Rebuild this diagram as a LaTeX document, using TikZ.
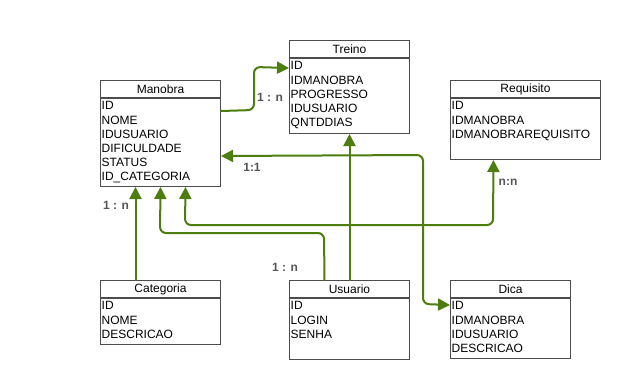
\documentclass[tikz,border=0pt]{standalone}
\usepackage{fontspec}
\setmainfont{Liberation Sans}
\usetikzlibrary{arrows.meta}

% One table of the schema: name, title, north west corner, width, body height, fields
\newcommand{\entity}[6]{%
  \node[entity head,minimum width=#4,anchor=north west] (#1) at (#3) {#2};
  \node[entity body,minimum width=#4,minimum height=#5,anchor=north] (#1-body) at (#1.south) {};
  \node[field list,anchor=north west] (#1-fields) at (#1-body.north west) {#6};
}

\begin{document}
\begin{tikzpicture}
  [x=1pt,y=-1pt,line cap=round,
   % Styles
   entity head/.style={draw=boxcolor,line width=1pt,fill=white,minimum height=17pt,
     inner sep=0pt,font=\fontsize{12}{14}\selectfont},
   entity body/.style={draw=boxcolor,line width=1pt,fill=white,inner sep=0pt},
   field list/.style={align=left,inner xsep=1.5pt,inner ysep=3.5pt,
     font=\fontsize{12}{14.2}\selectfont},
   relation/.style={draw=linkcolor,line width=2pt,rounded corners=6pt},
   tip/.style={-{Triangle[length=12pt,width=12pt]}},
   both tips/.style={{Triangle[length=12pt,width=12pt]}-{Triangle[length=12pt,width=12pt]}},
   cardinality/.style={text=labelcolor,inner sep=1pt,font=\fontsize{12}{14}\selectfont\bfseries}]

  % Colors
  \colorlet{boxcolor}{black!70}
  \definecolor{linkcolor}{RGB}{77,125,14}
  \definecolor{labelcolor}{RGB}{85,85,85}

  \useasboundingbox[fill=white] (0,0) rectangle (622,380);

  % Tables
  \entity{manobra}{Manobra}{100,80}{120pt}{88pt}
    {ID\\NOME\\IDUSUARIO\\DIFICULDADE\\STATUS\\ID\_CATEGORIA}
  \entity{treino}{Treino}{289,40}{120pt}{75pt}
    {ID\\IDMANOBRA\\PROGRESSO\\IDUSUARIO\\QNTDDIAS}
  \entity{requisito}{Requisito}{450,80}{150pt}{61pt}
    {ID\\IDMANOBRA\\IDMANOBRAREQUISITO}
  \entity{categoria}{Categoria}{100,280}{120pt}{46pt}
    {ID\\NOME\\DESCRICAO}
  \entity{usuario}{Usuario}{289,280}{120pt}{61pt}
    {ID\\LOGIN\\SENHA}
  \entity{dica}{Dica}{450,280}{120pt}{60pt}
    {ID\\IDMANOBRA\\IDUSUARIO\\DESCRICAO}

  % Relations
  \draw[relation,tip] ([yshift=-13pt]manobra-body.north east) -- (254,110)
    -- (254,67) -- ([yshift=-10pt]treino-body.north west);
  \draw[relation,tip] (usuario.north) -- (treino-body.south);
  \draw[relation,both tips] ([yshift=-58pt]manobra-body.north east) -- (423,155)
    -- (423,304) -- ([yshift=-7pt]dica-body.north west);
  \draw[relation,tip] ([xshift=-25pt]categoria.north) -- ([xshift=-25pt]manobra-body.south);
  \draw[relation,tip] ([xshift=-25pt]usuario.north) -- (324,233)
    -- (160,233) -- (manobra-body.south);
  \draw[relation,both tips] ([xshift=25pt]manobra-body.south) -- (185,225)
    -- (493,225) -- ([xshift=-32pt]requisito-body.south);

  % Cardinalities
  \node[cardinality] (card-treino) at (270,97) {1 : n};
  \node[cardinality] (card-dica) at (252,167) {1:1};
  \node[cardinality] (card-categoria) at (116,205) {1 : n};
  \node[cardinality] (card-usuario) at (285,267) {1 : n};
  \node[cardinality] (card-requisito) at (508,182) {n:n};
\end{tikzpicture}
\end{document}
